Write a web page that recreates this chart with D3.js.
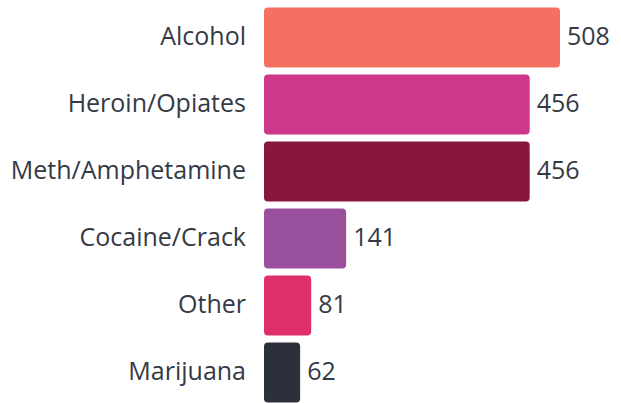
<!DOCTYPE html>
<html>
<head>
<meta charset="utf-8">
<script src="https://cdn.jsdelivr.net/npm/d3@7"></script>
<style>
  html, body { margin: 0; padding: 0; background: #fff; }
  svg { display: block; font-family: "Open Sans", sans-serif; }
</style>
</head>
<body>
<div class="chart"></div>
<script>
// data
const categories = ['Alcohol', 'Heroin/Opiates', 'Meth/Amphetamine', 'Cocaine/Crack', 'Other', 'Marijuana'];
const values = [508, 456, 456, 141, 81, 62];
const colors = ['#f47161', '#ce388a', '#88173e', '#9a519d', '#de2e6b', '#2c303a'];

function main() {
    const width = 621, height = 403;

    const svg = d3.select('.chart')
        .append('svg')
        .attr('width', width)
        .attr('height', height);

    const data = categories.map((c, i) => ({ label: c, value: values[i], color: colors[i] }));

    // scales
    const x = d3.scaleLinear()
        .domain([0, 508])
        .range([264, 560]);

    // step 67, bar 60
    const y = d3.scaleBand()
        .domain(categories)
        .range([4, 406])
        .paddingInner(7 / 67)
        .paddingOuter(7 / 67 / 2);

    // bars
    svg.selectAll('rect.bar')
        .data(data)
        .enter()
        .append('rect')
        .attr('class', 'bar')
        .attr('x', x(0))
        .attr('y', d => y(d.label))
        .attr('width', d => x(d.value) - x(0))
        .attr('height', y.bandwidth())
        .attr('rx', 4)
        .attr('fill', d => d.color);

    // category labels
    svg.selectAll('text.cat')
        .data(data)
        .enter()
        .append('text')
        .attr('class', 'cat')
        .text(d => d.label)
        .attr('x', x(0) - 18)
        .attr('y', d => y(d.label) + y.bandwidth() / 2)
        .attr('dy', '0.28em')
        .attr('font-size', 25)
        .attr('text-anchor', 'end')
        .attr('fill', '#343a45');

    // value labels
    svg.selectAll('text.val')
        .data(data)
        .enter()
        .append('text')
        .attr('class', 'val')
        .text(d => d.value)
        .attr('x', d => x(d.value) + 7)
        .attr('y', d => y(d.label) + y.bandwidth() / 2)
        .attr('dy', '0.28em')
        .attr('font-size', 25)
        .attr('fill', '#343a45');
}

main();
</script>
</body>
</html>
